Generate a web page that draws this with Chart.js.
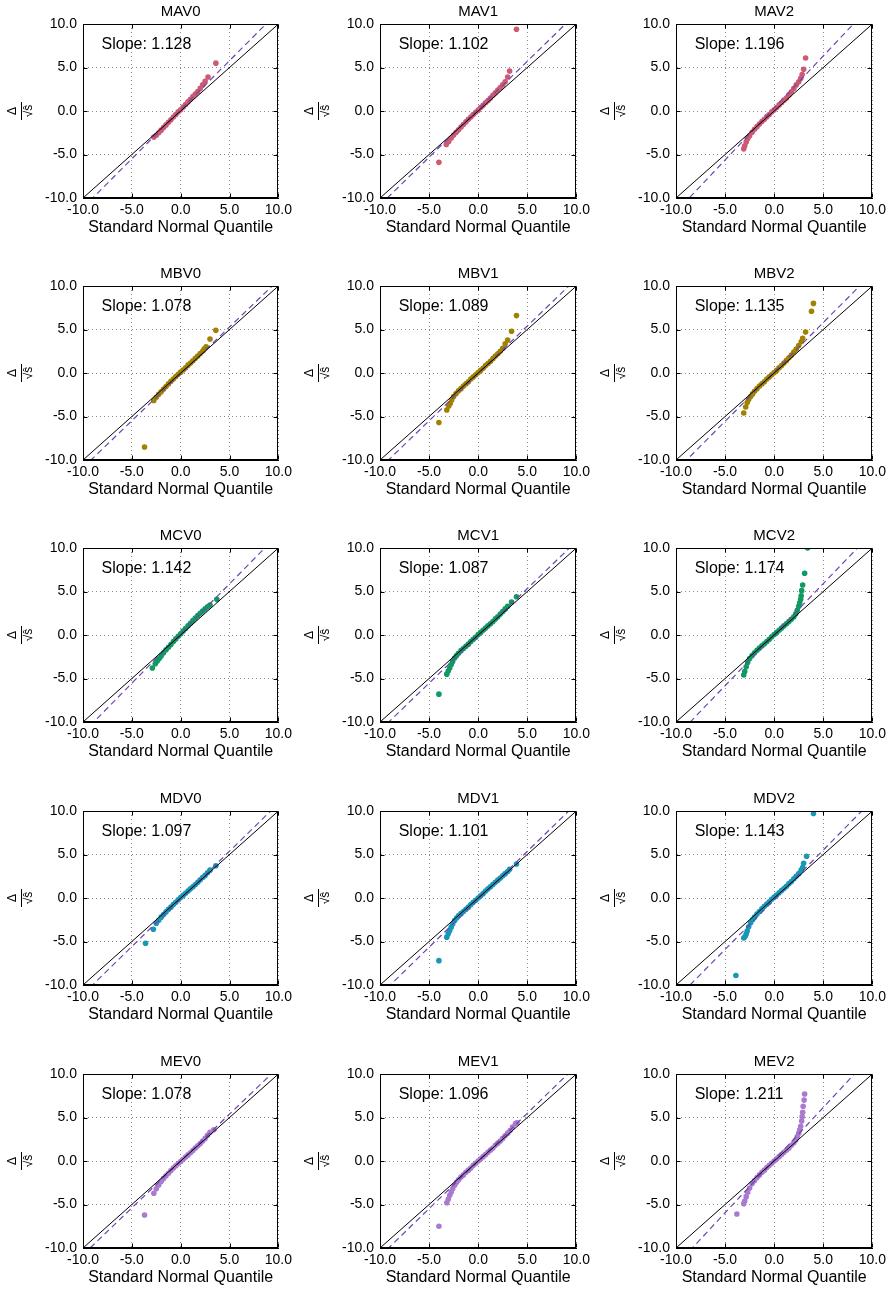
<!DOCTYPE html>
<html>
<head>
<meta charset="utf-8">
<script src="https://cdn.jsdelivr.net/npm/chart.js@4.4.0/dist/chart.umd.min.js"></script>
<style>
  html, body { margin: 0; padding: 0; background: #fff; }
  body { width: 892px; height: 1290px; position: relative; overflow: hidden; }
  canvas { position: absolute; }
</style>
</head>
<body>
<script>
// Panel names and fitted slopes
var panelNames = ['MAV0', 'MAV1', 'MAV2', 'MBV0', 'MBV1', 'MBV2', 'MCV0', 'MCV1', 'MCV2',
                  'MDV0', 'MDV1', 'MDV2', 'MEV0', 'MEV1', 'MEV2'];
var slopes = [1.128, 1.102, 1.196, 1.078, 1.089, 1.135, 1.142, 1.087, 1.174,
              1.097, 1.101, 1.143, 1.078, 1.096, 1.211];
var intercepts = [0.15, 0.2, 0.35, -0.1, -0.05, 0.12, 0.17, -0.1, 0.04,
                  -0.1, -0.15, -0.2, 0.0, 0.0, 0.1];
var axisTicks = [-10, -5, 0, 5, 10];
var refLineX = [-10, 10];
var refLineY = [-10, 10];

// QQ points (x = normal quantile, y = scaled residual)
var mav0X = [-2.75,-2.5,-2.25,-2,-1.75,-1.5,-1.25,-1,-0.75,-0.5,-0.25,0,0.25,0.5,0.75,1,1.25,1.5,1.75,2,2.25,2.5,2.8,3.6];
var mav0Y = [-3.0,-2.8,-2.5,-2.2,-1.9,-1.6,-1.3,-1.0,-0.7,-0.4,-0.1,0.15,0.45,0.75,1.05,1.35,1.65,1.95,2.25,2.6,3.0,3.4,3.9,5.5];
var mav1X = [-4.0,-3.25,-3,-2.75,-2.5,-2.25,-2,-1.75,-1.5,-1.25,-1,-0.75,-0.5,-0.25,0,0.25,0.5,0.75,1,1.25,1.5,1.75,2,2.25,2.5,2.75,3,3.2,3.9];
var mav1Y = [-5.9,-3.85,-3.5,-3.1,-2.75,-2.45,-2.15,-1.85,-1.55,-1.25,-0.95,-0.7,-0.4,-0.15,0.1,0.4,0.65,0.95,1.2,1.5,1.8,2.1,2.4,2.7,3.0,3.35,3.9,4.6,9.4];
var mav2X = [-3.1,-3,-2.85,-2.7,-2.5,-2.25,-2,-1.75,-1.5,-1.25,-1,-0.75,-0.5,-0.25,0,0.25,0.5,0.75,1,1.25,1.5,1.75,2,2.25,2.5,2.7,2.85,3.0,3.2];
var mav2Y = [-4.35,-4.0,-3.55,-3.2,-2.85,-2.45,-2.1,-1.8,-1.5,-1.2,-0.95,-0.65,-0.4,-0.1,0.15,0.4,0.7,0.95,1.25,1.5,1.85,2.2,2.6,3.0,3.35,3.75,4.2,4.8,6.1];
var mbv0X = [-3.7,-2.75,-2.5,-2.25,-2,-1.75,-1.5,-1.25,-1,-0.75,-0.5,-0.25,0,0.25,0.5,0.75,1,1.25,1.5,1.75,2,2.25,2.4,2.6,3.0,3.6];
var mbv0Y = [-8.5,-3.15,-2.8,-2.45,-2.15,-1.85,-1.55,-1.25,-0.95,-0.7,-0.4,-0.15,0.1,0.35,0.6,0.9,1.15,1.4,1.7,1.95,2.25,2.5,2.75,3.0,3.9,4.9];
var mbv1X = [-4.0,-3.2,-3,-2.85,-2.7,-2.5,-2.25,-2,-1.75,-1.5,-1.25,-1,-0.75,-0.5,-0.25,0,0.25,0.5,0.75,1,1.25,1.5,1.75,2,2.25,2.5,2.75,3.0,3.4,3.9];
var mbv1Y = [-5.7,-4.25,-3.8,-3.5,-3.1,-2.7,-2.35,-2.05,-1.8,-1.5,-1.25,-1.0,-0.7,-0.45,-0.2,0.05,0.3,0.55,0.85,1.1,1.35,1.65,1.95,2.2,2.5,2.85,3.35,3.8,4.8,6.6];
var mbv2X = [-3.1,-2.9,-2.75,-2.6,-2.4,-2.2,-2,-1.75,-1.5,-1.25,-1,-0.75,-0.5,-0.25,0,0.25,0.5,0.75,1,1.25,1.5,1.75,2,2.25,2.5,2.75,2.9,3.2,3.8,4.0];
var mbv2Y = [-4.6,-3.9,-3.4,-3.05,-2.7,-2.4,-2.1,-1.8,-1.5,-1.25,-1.0,-0.7,-0.45,-0.2,0.05,0.3,0.6,0.85,1.15,1.45,1.75,2.05,2.4,2.75,3.15,3.6,4.0,4.7,7.1,8.0];
var mcv0X = [-2.9,-2.6,-2.4,-2.2,-2,-1.75,-1.5,-1.25,-1,-0.75,-0.5,-0.25,0,0.25,0.5,0.75,1,1.25,1.5,1.75,2,2.25,2.5,2.75,3,3.7];
var mcv0Y = [-3.8,-3.3,-3.0,-2.7,-2.4,-2.05,-1.7,-1.4,-1.1,-0.75,-0.45,-0.15,0.15,0.45,0.75,1.05,1.35,1.65,1.95,2.25,2.5,2.75,3.0,3.25,3.45,4.1];
var mcv1X = [-4.0,-3.2,-3.05,-2.9,-2.75,-2.6,-2.4,-2.2,-2,-1.75,-1.5,-1.25,-1,-0.75,-0.5,-0.25,0,0.25,0.5,0.75,1,1.25,1.5,1.75,2,2.25,2.5,2.75,3,3.4,3.9];
var mcv1Y = [-6.8,-4.5,-4.15,-3.8,-3.4,-3.05,-2.65,-2.35,-2.1,-1.8,-1.55,-1.3,-1.05,-0.75,-0.5,-0.25,0.05,0.3,0.55,0.8,1.05,1.3,1.55,1.85,2.1,2.4,2.7,3.0,3.3,3.8,4.4];
var mcv2X = [-3.1,-3,-2.85,-2.7,-2.5,-2.25,-2,-1.75,-1.5,-1.25,-1,-0.75,-0.5,-0.25,0,0.25,0.5,0.75,1,1.25,1.5,1.75,2,2.2,2.35,2.5,2.6,2.7,2.75,2.8,2.9,3.1,3.4];
var mcv2Y = [-4.6,-4.2,-3.65,-3.15,-2.7,-2.35,-2.05,-1.75,-1.5,-1.25,-1.0,-0.75,-0.5,-0.2,0.05,0.3,0.55,0.8,1.05,1.3,1.55,1.8,2.1,2.45,2.85,3.3,3.7,4.1,4.5,5.1,5.75,7.1,10.0];
var mdv0X = [-3.6,-2.8,-2.5,-2.25,-2,-1.75,-1.5,-1.25,-1,-0.75,-0.5,-0.25,0,0.25,0.5,0.75,1,1.25,1.5,1.75,2,2.25,2.5,2.75,3.0,3.6];
var mdv0Y = [-5.2,-3.6,-2.9,-2.55,-2.2,-1.9,-1.6,-1.3,-1.05,-0.75,-0.5,-0.2,0.05,0.3,0.55,0.8,1.05,1.3,1.55,1.8,2.1,2.35,2.6,2.9,3.2,3.7];
var mdv1X = [-4.0,-3.2,-3.05,-2.9,-2.75,-2.6,-2.4,-2.2,-2,-1.75,-1.5,-1.25,-1,-0.75,-0.5,-0.25,0,0.25,0.5,0.75,1,1.25,1.5,1.75,2,2.25,2.5,2.75,3,3.2,3.9];
var mdv1Y = [-7.2,-4.5,-4.1,-3.75,-3.35,-3.0,-2.6,-2.3,-2.05,-1.8,-1.55,-1.3,-1.05,-0.75,-0.5,-0.25,0.0,0.25,0.5,0.8,1.05,1.3,1.55,1.8,2.05,2.3,2.55,2.8,3.05,3.3,3.9];
var mdv2X = [-3.9,-3.1,-2.95,-2.85,-2.75,-2.6,-2.4,-2.2,-2,-1.75,-1.5,-1.25,-1,-0.75,-0.5,-0.25,0,0.25,0.5,0.75,1,1.25,1.5,1.75,2,2.25,2.5,2.75,2.9,3.0,3.3,4.0];
var mdv2Y = [-8.9,-4.6,-4.4,-4.15,-3.8,-3.3,-2.85,-2.5,-2.2,-1.85,-1.55,-1.25,-0.95,-0.7,-0.45,-0.15,0.1,0.35,0.6,0.85,1.1,1.35,1.65,1.9,2.2,2.5,2.8,3.2,3.5,4.0,4.8,9.7];
var mev0X = [-3.7,-2.75,-2.5,-2.25,-2,-1.75,-1.5,-1.25,-1,-0.75,-0.5,-0.25,0,0.25,0.5,0.75,1,1.25,1.5,1.75,2,2.25,2.5,2.75,3,3.4];
var mev0Y = [-6.2,-3.7,-3.2,-2.75,-2.35,-2.0,-1.7,-1.4,-1.1,-0.8,-0.55,-0.3,-0.05,0.2,0.45,0.7,0.95,1.2,1.5,1.75,2.0,2.3,2.6,2.95,3.3,3.6];
var mev1X = [-4.0,-3.2,-3.05,-2.9,-2.75,-2.6,-2.4,-2.2,-2,-1.75,-1.5,-1.25,-1,-0.75,-0.5,-0.25,0,0.25,0.5,0.75,1,1.25,1.5,1.75,2,2.25,2.5,2.75,3,3.25,3.5,3.8,3.95];
var mev1Y = [-7.5,-4.8,-4.4,-3.95,-3.55,-3.2,-2.8,-2.45,-2.15,-1.85,-1.6,-1.3,-1.05,-0.8,-0.5,-0.25,0.0,0.25,0.5,0.75,1.0,1.25,1.5,1.8,2.05,2.3,2.6,2.9,3.2,3.5,3.9,4.3,4.4];
var mev2X = [-3.8,-3.1,-3.0,-2.85,-2.7,-2.5,-2.25,-2,-1.75,-1.5,-1.25,-1,-0.75,-0.5,-0.25,0,0.25,0.5,0.75,1,1.25,1.5,1.75,2,2.2,2.35,2.5,2.6,2.7,2.8,2.85,2.9,2.95,3.05,3.1];
var mev2Y = [-6.1,-4.9,-4.6,-4.1,-3.6,-3.1,-2.6,-2.25,-1.9,-1.6,-1.3,-1.05,-0.75,-0.5,-0.25,0.0,0.25,0.5,0.75,1.0,1.25,1.5,1.8,2.1,2.4,2.8,3.2,3.6,4.0,4.6,5.1,5.6,6.3,7.0,7.7];

var pointsX = [mav0X, mav1X, mav2X, mbv0X, mbv1X, mbv2X, mcv0X, mcv1X, mcv2X, mdv0X, mdv1X, mdv2X, mev0X, mev1X, mev2X];
var pointsY = [mav0Y, mav1Y, mav2Y, mbv0Y, mbv1Y, mbv2Y, mcv0Y, mcv1Y, mcv2Y, mdv0Y, mdv1Y, mdv2Y, mev0Y, mev1Y, mev2Y];

// one colour per row
var rowColors = ['#cc5b72', '#a08200', '#0f9a62', '#1798b6', '#a97ad0'];
var fitColor = '#7044b4';

// layout of the grid (plot area positions)
var colLeft = [83, 380, 676];
var colPlotW = [197, 198, 198];
var rowTop = [24, 286, 548, 811, 1074];
var plotH = 174;
var yAxisW = 80, titleH = 24, xAxisH = 40, padRight = 16;

Chart.defaults.font.family = "'Liberation Sans', Arial, sans-serif";
Chart.defaults.color = '#000';

function toPoints(xs, ys) {
  var out = [];
  for (var i = 0; i < xs.length; i++) out.push({ x: xs[i], y: ys[i] });
  return out;
}

function makeDecor(idx) {
  return {
    id: 'decor' + idx,
    afterDraw: function(chart) {
      var ctx = chart.ctx, a = chart.chartArea;
      var xs = chart.scales.x, ys = chart.scales.y;
      ctx.save();
      ctx.strokeStyle = '#000';
      ctx.lineWidth = 1;
      var l = Math.round(a.left) + 0.5, r = Math.round(a.right) - 0.5;
      var t = Math.round(a.top) + 0.5, b = Math.round(a.bottom) - 0.5;
      ctx.strokeRect(l, t, r - l, b - t);
      // inward tick marks on all four sides
      ctx.beginPath();
      xs.ticks.forEach(function(tk) {
        var px = Math.round(xs.getPixelForValue(tk.value)) + 0.5;
        ctx.moveTo(px, b); ctx.lineTo(px, b - 4);
        ctx.moveTo(px, t); ctx.lineTo(px, t + 4);
      });
      ys.ticks.forEach(function(tk) {
        var py = Math.round(ys.getPixelForValue(tk.value)) + 0.5;
        ctx.moveTo(l, py); ctx.lineTo(l + 4, py);
        ctx.moveTo(r, py); ctx.lineTo(r - 4, py);
      });
      ctx.stroke();
      // fraction bar of the y title
      var cy = (a.top + a.bottom) / 2;
      var bx = Math.round(ys.left + 2 + 15.6) + 0.5;
      ctx.beginPath();
      ctx.moveTo(bx, cy - 9); ctx.lineTo(bx, cy + 9);
      ctx.stroke();
      // slope label
      ctx.fillStyle = '#000';
      ctx.font = "16px 'Liberation Sans', Arial, sans-serif";
      ctx.textBaseline = 'middle';
      ctx.textAlign = 'left';
      ctx.fillText('Slope: ' + slopes[idx].toFixed(3), xs.getPixelForValue(-8.1), ys.getPixelForValue(7.6));
      ctx.restore();
    }
  };
}

function createPanel(idx) {
  var row = Math.floor(idx / 3), col = idx % 3;
  var canvas = document.createElement('canvas');
  var w = yAxisW + colPlotW[col] + padRight;
  var h = titleH + plotH + xAxisH;
  canvas.width = w;
  canvas.height = h;
  canvas.style.left = (colLeft[col] - yAxisW) + 'px';
  canvas.style.top = (rowTop[row] - titleH) + 'px';
  canvas.style.width = w + 'px';
  canvas.style.height = h + 'px';
  document.body.appendChild(canvas);

  var s = slopes[idx], c = intercepts[idx];
  var color = rowColors[row];

  var gridOpts = { color: '#8a8a8a', lineWidth: 1, drawTicks: false, borderDash: [1, 3] };
  var borderOpts = { display: true, color: '#000', width: 1, dash: [1, 3] };

  new Chart(canvas.getContext('2d'), {
    type: 'scatter',
    data: {
      datasets: [
        {
          data: toPoints(pointsX[idx], pointsY[idx]),
          backgroundColor: color,
          borderColor: color,
          pointRadius: 2.8,
          pointBorderWidth: 0,
          order: 3
        },
        {
          data: toPoints(refLineX, refLineY),
          showLine: true,
          borderColor: '#000',
          borderWidth: 1,
          pointRadius: 0,
          order: 1
        },
        {
          data: [{ x: refLineX[0], y: s * refLineX[0] + c }, { x: refLineX[1], y: s * refLineX[1] + c }],
          showLine: true,
          borderColor: fitColor,
          borderWidth: 1.2,
          borderDash: [6, 4],
          pointRadius: 0,
          order: 2
        }
      ]
    },
    options: {
      responsive: false,
      animation: false,
      layout: { padding: { left: 0, right: padRight, top: 0, bottom: 0 } },
      plugins: {
        legend: { display: false },
        tooltip: { enabled: false },
        title: {
          display: true,
          fullSize: false,
          text: panelNames[idx],
          color: '#000',
          font: { size: 15, weight: 'normal', lineHeight: 1.1 },
          padding: { top: 4, bottom: 3.5 }
        }
      },
      scales: {
        x: {
          type: 'linear',
          min: -10, max: 10,
          afterBuildTicks: function(scale) { scale.ticks = axisTicks.map(function(v) { return { value: v }; }); },
          afterFit: function(scale) { scale.height = xAxisH; },
          ticks: {
            color: '#000', font: { size: 14 }, padding: 4, maxRotation: 0, autoSkip: false,
            callback: function(v) { return Number(v).toFixed(1); }
          },
          grid: gridOpts,
          border: borderOpts,
          title: {
            display: true, text: 'Standard Normal Quantile', color: '#000',
            font: { size: 16, lineHeight: 1.0 }, padding: { top: 0, bottom: 2 }
          }
        },
        y: {
          type: 'linear',
          min: -10, max: 10,
          afterBuildTicks: function(scale) { scale.ticks = axisTicks.map(function(v) { return { value: v }; }); },
          afterFit: function(scale) { scale.width = yAxisW; },
          ticks: {
            color: '#000', font: { size: 14 }, padding: 6,
            callback: function(v) { return Number(v).toFixed(1); }
          },
          grid: gridOpts,
          border: borderOpts,
          title: {
            display: true, text: ['Δ', '√ŝ'], color: '#000',
            font: { size: 12, lineHeight: 1.3 }, padding: { top: 2, bottom: 0 }
          }
        }
      }
    },
    plugins: [makeDecor(idx)]
  });
}

for (var i = 0; i < panelNames.length; i++) {
  createPanel(i);
}
</script>
</body>
</html>
